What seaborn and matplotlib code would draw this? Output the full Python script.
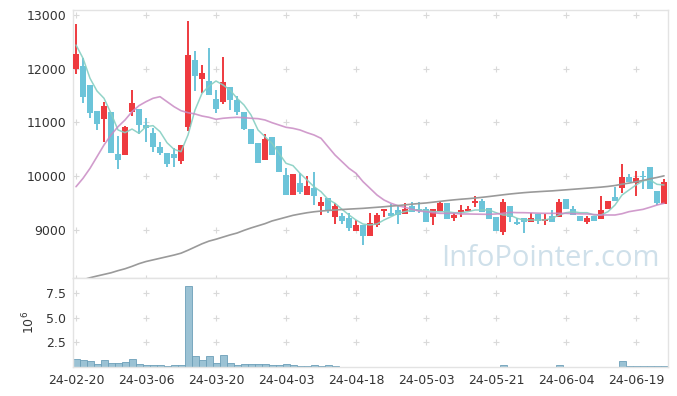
import numpy as np
import pandas as pd
import matplotlib
matplotlib.use('Agg')
import matplotlib.pyplot as plt
import seaborn as sns

# daily candles, 24-02-20 .. 24-06-25 (85 trading days)
opens = [12000, 12050, 11697, 11212, 11069, 11194, 10412, 10399, 11200, 11250,
         10952, 10797, 10536, 10424, 10412, 10287, 10920, 12162, 11814, 11771,
         11430, 11386, 11654, 11417, 11194, 10877, 10611, 10300, 10728, 10561,
         10021, 9648, 9877, 9648, 9772, 9450, 9586, 9244, 9257, 9214,
         8984, 9090, 8885, 9090, 9350, 9319, 9369, 9289, 9444, 9381,
         9388, 9244, 9350, 9500, 9214, 9332, 9350, 9494, 9537, 9412,
         9244, 8965, 9444, 9140, 9214, 9151, 9295, 9164, 9257, 9244,
         9574, 9393, 9257, 9151, 9257, 9201, 9388, 9606, 9785, 9990,
         9878, 10010, 10176, 9723, 9475]
highs = [12827, 12205, 11697, 11212, 11386, 11194, 10747, 10930, 11604, 11250,
         11077, 10890, 10630, 10424, 10518, 10580, 12894, 12330, 12069, 12380,
         11604, 12212, 11654, 11497, 11194, 10877, 10611, 10784, 10728, 10561,
         10151, 10040, 10064, 10002, 10083, 9605, 9586, 9494, 9313, 9307,
         9183, 9090, 9319, 9319, 9381, 9481, 9462, 9494, 9524, 9524,
         9420, 9381, 9510, 9500, 9319, 9462, 9437, 9630, 9568, 9412,
         9244, 9568, 9444, 9226, 9226, 9319, 9295, 9295, 9375, 9568,
         9574, 9443, 9257, 9257, 9257, 9635, 9537, 9791, 10220, 10040,
         10101, 10090, 10176, 9723, 9947]
lows = [11896, 11356, 11077, 10859, 10641, 10436, 10127, 10399, 11120, 10784,
        10630, 10455, 10393, 10164, 10164, 10225, 10846, 11590, 11542, 11516,
        11175, 11343, 11231, 11138, 10860, 10598, 10239, 10300, 10399, 10077,
        9648, 9648, 9661, 9648, 9462, 9276, 9313, 9108, 9108, 8984,
        8984, 8717, 8885, 9058, 9244, 9257, 9108, 9289, 9338, 9307,
        9151, 9090, 9350, 9207, 9170, 9244, 9350, 9431, 9326, 9207,
        8978, 8909, 9151, 9090, 8946, 9151, 9108, 9090, 9151, 9244,
        9381, 9282, 9170, 9108, 9170, 9201, 9388, 9537, 9691, 9896,
        9635, 9760, 9754, 9462, 9475]
closes = [12274, 11479, 11181, 10976, 11306, 10436, 10306, 10920, 11356, 10952,
          10890, 10548, 10436, 10226, 10343, 10580, 12255, 11870, 11926, 11516,
          11255, 11758, 11417, 11200, 10883, 10598, 10239, 10685, 10399, 10077,
          9648, 10040, 9704, 9816, 9635, 9512, 9350, 9444, 9170, 9040,
          9090, 8880, 9133, 9276, 9381, 9257, 9276, 9381, 9338, 9344,
          9151, 9381, 9494, 9207, 9282, 9369, 9388, 9537, 9326, 9207,
          8978, 9524, 9233, 9114, 9151, 9214, 9170, 9201, 9151, 9512,
          9381, 9282, 9170, 9226, 9170, 9363, 9537, 9537, 9984, 9896,
          9959, 9980, 9754, 9494, 9885]

ma5 = [12441, 12194, 11821, 11585, 11449, 11170, 10859, 10809, 10877, 10797,
       10921, 10940, 10828, 10622, 10499, 10455, 10766, 11231, 11542, 11678,
       11771, 11697, 11604, 11449, 11324, 11138, 10859, 10734, 10611, 10424,
       10239, 10195, 10052, 9928, 9803, 9710, 9568, 9494, 9382, 9276,
       9183, 9108, 9090, 9110, 9183, 9244, 9307, 9338, 9369, 9369,
       9356, 9338, 9338, 9338, 9319, 9319, 9338, 9369, 9369, 9369,
       9319, 9276, 9276, 9214, 9183, 9183, 9183, 9183, 9214, 9276,
       9319, 9338, 9319, 9319, 9276, 9276, 9338, 9462, 9648, 9742,
       9835, 9915, 9928, 9847, 9835]
ma20 = [9803, 9959, 10145, 10362, 10580, 10766, 10920, 11045, 11200, 11312,
        11386, 11449, 11479, 11386, 11293, 11218, 11181, 11157, 11119, 11095,
        11058, 11077, 11088, 11095, 11088, 11077, 11070, 11045, 10995, 10952,
        10909, 10890, 10859, 10809, 10766, 10704, 10548, 10393, 10269, 10145,
        10052, 9897, 9773, 9648, 9555, 9494, 9449, 9419, 9382, 9350,
        9338, 9319, 9307, 9307, 9307, 9295, 9295, 9292, 9290, 9288,
        9295, 9307, 9325, 9320, 9319, 9315, 9310, 9307, 9307, 9307,
        9307, 9300, 9297, 9295, 9285, 9276, 9276, 9276, 9300, 9338,
        9360, 9381, 9420, 9462, 9494]
ma60 = [8030, 8070, 8108, 8140, 8170, 8200, 8240, 8275, 8320, 8370,
        8410, 8440, 8470, 8500, 8530, 8565, 8620, 8680, 8740, 8790,
        8825, 8865, 8905, 8940, 8990, 9035, 9075, 9115, 9165, 9200,
        9235, 9270, 9295, 9318, 9336, 9350, 9360, 9369, 9378, 9386,
        9393, 9400, 9410, 9420, 9430, 9442, 9452, 9465, 9478, 9490,
        9500, 9515, 9530, 9545, 9558, 9570, 9580, 9592, 9605, 9620,
        9636, 9652, 9667, 9680, 9692, 9702, 9710, 9718, 9725, 9735,
        9745, 9755, 9765, 9775, 9785, 9795, 9808, 9825, 9850, 9870,
        9895, 9920, 9950, 9975, 10005]

# volume in millions of shares
volume = [0.79, 0.68, 0.58, 0.28, 0.68, 0.38, 0.38, 0.48, 0.79, 0.28,
          0.17, 0.17, 0.17, 0.07, 0.17, 0.17, 8.24, 1.09, 0.68, 1.09,
          0.38, 1.20, 0.38, 0.17, 0.28, 0.28, 0.28, 0.28, 0.17, 0.17,
          0.28, 0.17, 0.07, 0.07, 0.17, 0.07, 0.17, 0.07, 0.05, 0.05,
          0.05, 0.05, 0.05, 0.05, 0.05, 0.02, 0.05, 0.05, 0.02, 0.05,
          0.02, 0.05, 0.05, 0.05, 0.02, 0.02, 0.02, 0.05, 0.05, 0.05,
          0.05, 0.17, 0.05, 0.05, 0.02, 0.05, 0.05, 0.05, 0.02, 0.17,
          0.05, 0.05, 0.02, 0.02, 0.02, 0.05, 0.05, 0.05, 0.60, 0.07,
          0.15, 0.15, 0.15, 0.07, 0.15]

tick_labels = ['24-02-20', '24-03-06', '24-03-20', '24-04-03', '24-04-18',
               '24-05-03', '24-05-21', '24-06-04', '24-06-19']

df = pd.DataFrame({'open': opens, 'high': highs, 'low': lows, 'close': closes,
                   'ma5': ma5, 'ma20': ma20, 'ma60': ma60, 'volume': volume})
df['idx'] = np.arange(len(df))

sns.set_theme(style='white')
plt.rcParams['font.family'] = ['DejaVu Sans']

up_color = '#ee3a3f'
down_color = '#6cc4d9'
grid_color = '#d9d9d9'
text_color = '#333333'

fig = plt.figure(figsize=(6.77, 3.96), dpi=100)
ax = fig.add_axes([73 / 677, 1 - 278 / 396, 595 / 677, 268 / 396])
axv = fig.add_axes([73 / 677, 1 - 367 / 396, 595 / 677, 89 / 396], sharex=ax)

xmin, xmax = -0.43, 84.57
ticks = list(range(0, 85, 10))

# watermark behind everything
fig.text(441 / 677, 1 - 266 / 396, 'InfoPointer.com', fontsize=21, color='#cfe0ea',
         family=['Open Sans', 'DejaVu Sans'], va='baseline', ha='left', zorder=0)
ax.patch.set_alpha(0)

# candles
up = df['close'] >= df['open']
colors = np.where(up, up_color, down_color)
body_lo = np.minimum(df['open'], df['close'])
body_h = np.maximum((df['close'] - df['open']).abs(), 15)
ax.vlines(df['idx'], df['low'], df['high'], colors=colors, linewidth=1.4, zorder=2)
ax.bar(df['idx'], body_h, bottom=body_lo, width=0.72, color=colors, linewidth=0, zorder=3)

# moving averages
sns.lineplot(x='idx', y='ma5', data=df, ax=ax, color='#86cfc2', linewidth=1.1, alpha=0.9, zorder=4)
sns.lineplot(x='idx', y='ma20', data=df, ax=ax, color='#c98bc4', linewidth=1.2, alpha=0.85, zorder=4)
sns.lineplot(x='idx', y='ma60', data=df, ax=ax, color='#9a9a9a', linewidth=1.2, zorder=4)

ax.set_xlim(xmin, xmax)
ax.set_ylim(8103, 13093)
ax.set_yticks([9000, 10000, 11000, 12000, 13000])
ax.set_yticklabels(['9000', '10000', '11000', '12000', '13000'])
ax.set_xlabel('')
ax.set_ylabel('')
ax.tick_params(axis='x', labelbottom=False, length=0)
ax.tick_params(axis='y', length=0, labelsize=9, labelcolor=text_color, pad=5)

# "+" grid markers
gx, gy = np.meshgrid(ticks, [8103, 9000, 10000, 11000, 12000, 13000])
ax.scatter(gx.ravel(), gy.ravel(), marker='+', s=22, color=grid_color, linewidths=0.8, zorder=1)

# volume
axv.bar(df['idx'], df['volume'], width=1.0, color='#9bc2d4', edgecolor='#6c9fb8', linewidth=0.6, zorder=2)
axv.set_ylim(0, 9.08)
axv.set_yticks([2.5, 5.0, 7.5])
axv.set_yticklabels(['2.5', '5.0', '7.5'])
axv.set_xticks(ticks)
axv.set_xticklabels(tick_labels)
axv.tick_params(axis='both', length=0, labelsize=9, labelcolor=text_color, pad=5)
axv.set_ylabel('$10^6$', fontsize=9, color=text_color, labelpad=6)
gx, gy = np.meshgrid(ticks, [2.5, 5.0, 7.5])
axv.scatter(gx.ravel(), gy.ravel(), marker='+', s=22, color=grid_color, linewidths=0.8, zorder=1)

for a in (ax, axv):
    for s in a.spines.values():
        s.set_color('#e3e3e3')
        s.set_linewidth(1.0)

fig.savefig('out.png', dpi=100, facecolor='white')
